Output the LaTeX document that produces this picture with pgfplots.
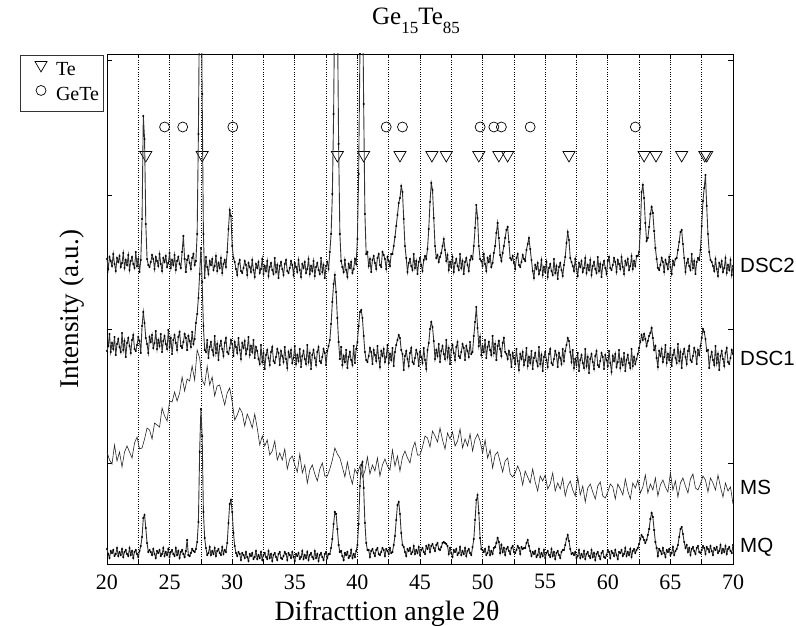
\documentclass[border=0pt]{standalone}
\usepackage{fontspec}
\setmainfont{Liberation Serif}
\newfontfamily\arialfont{Liberation Sans}
\usepackage{pgfplots}
\usepackage{pgfplotstable}
\pgfplotsset{compat=1.18}

\pgfplotstableread{
x y
20.0 305
20.1 295
20.2 307
20.3 303
20.4 298
20.5 310
20.6 300
20.7 293
20.8 306
20.9 302
21.0 308
21.1 297
21.2 301
21.3 311
21.4 296
21.5 304
21.6 299
21.7 309
21.8 294
21.9 303
22.0 307
22.1 300
22.2 296
22.3 312
22.4 298
22.5 305
22.6 292
22.7 304
22.8 345
22.9 448
23.0 425
23.1 340
23.2 305
23.3 299
23.4 297
23.5 302
23.6 309
23.7 305
23.8 295
23.9 307
24.0 303
24.1 298
24.2 310
24.3 300
24.4 293
24.5 306
24.6 302
24.7 308
24.8 297
24.9 301
25.0 311
25.1 296
25.2 304
25.3 299
25.4 309
25.5 294
25.6 303
25.7 307
25.8 300
25.9 296
26.0 312
26.1 328
26.2 305
26.3 292
26.4 304
26.5 308
26.6 301
26.7 295
26.8 306
26.9 310
27.0 299
27.1 303
27.2 330
27.3 430
27.4 580
27.5 640
27.6 470
27.7 330
27.8 286
27.9 307
28.0 297
28.1 290
28.2 303
28.3 299
28.4 305
28.5 294
28.6 298
28.7 308
28.8 293
28.9 301
29.0 296
29.1 306
29.2 291
29.3 300
29.4 304
29.5 297
29.6 312
29.7 335
29.8 354
29.9 348
30.0 318
30.1 306
30.2 302
30.3 295
30.4 289
30.5 300
30.6 304
30.7 293
30.8 291
30.9 296
31.0 303
31.1 299
31.2 289
31.3 301
31.4 297
31.5 292
31.6 304
31.7 294
31.8 287
31.9 300
32.0 296
32.1 302
32.2 291
32.3 295
32.4 305
32.5 290
32.6 298
32.7 293
32.8 303
32.9 288
33.0 297
33.1 301
33.2 294
33.3 290
33.4 306
33.5 292
33.6 299
33.7 286
33.8 298
33.9 302
34.0 295
34.1 289
34.2 300
34.3 304
34.4 293
34.5 291
34.6 296
34.7 303
34.8 299
34.9 289
35.0 301
35.1 297
35.2 292
35.3 304
35.4 294
35.5 287
35.6 300
35.7 296
35.8 302
35.9 291
36.0 295
36.1 305
36.2 290
36.3 298
36.4 293
36.5 303
36.6 288
36.7 297
36.8 301
36.9 294
37.0 290
37.1 306
37.2 292
37.3 299
37.4 286
37.5 298
37.6 302
37.7 295
37.8 312
37.9 330
38.0 370
38.1 450
38.2 580
38.3 660
38.4 560
38.5 420
38.6 330
38.7 303
38.8 297
38.9 292
39.0 304
39.1 294
39.2 287
39.3 300
39.4 296
39.5 302
39.6 291
39.7 295
39.8 305
39.9 300
40.0 325
40.1 390
40.2 510
40.3 620
40.4 590
40.5 460
40.6 350
40.7 310
40.8 312
40.9 298
41.0 305
41.1 292
41.2 304
41.3 308
41.4 301
41.5 295
41.6 306
41.7 310
41.8 299
41.9 297
42.0 312
42.1 309
42.2 305
42.3 295
42.4 307
42.5 303
42.6 298
42.7 310
42.8 310
42.9 318
43.0 327
43.1 338
43.2 349
43.3 361
43.4 366
43.5 378
43.6 372
43.7 345
43.8 318
43.9 306
44.0 292
44.1 301
44.2 305
44.3 298
44.4 294
44.5 310
44.6 296
44.7 303
44.8 290
44.9 302
45.0 306
45.1 299
45.2 293
45.3 304
45.4 308
45.5 305
45.6 315
45.7 335
45.8 362
45.9 381
46.0 374
46.1 346
46.2 318
46.3 306
46.4 309
46.5 302
46.6 307
46.7 311
46.8 318
46.9 325
47.0 314
47.1 303
47.2 309
47.3 294
47.4 302
47.5 297
47.6 307
47.7 292
47.8 301
47.9 305
48.0 298
48.1 294
48.2 310
48.3 296
48.4 303
48.5 290
48.6 302
48.7 306
48.8 299
48.9 293
49.0 304
49.1 308
49.2 305
49.3 318
49.4 336
49.5 359
49.6 346
49.7 318
49.8 305
49.9 303
50.0 298
50.1 310
50.2 300
50.3 293
50.4 306
50.5 302
50.6 308
50.7 297
50.8 301
50.9 311
51.0 318
51.1 331
51.2 341
51.3 326
51.4 309
51.5 303
51.6 311
51.7 318
51.8 326
51.9 334
52.0 337
52.1 322
52.2 306
52.3 304
52.4 308
52.5 301
52.6 295
52.7 306
52.8 310
52.9 299
53.0 297
53.1 302
53.2 309
53.3 305
53.4 303
53.5 314
53.6 320
53.7 326
53.8 315
53.9 304
54.0 293
54.1 286
54.2 299
54.3 295
54.4 301
54.5 290
54.6 294
54.7 304
54.8 289
54.9 297
55.0 292
55.1 302
55.2 287
55.3 296
55.4 300
55.5 293
55.6 289
55.7 305
55.8 291
55.9 298
56.0 285
56.1 297
56.2 301
56.3 294
56.4 288
56.5 299
56.6 307
56.7 321
56.8 332
56.9 324
57.0 306
57.1 302
57.2 298
57.3 293
57.4 305
57.5 295
57.6 288
57.7 301
57.8 297
57.9 303
58.0 292
58.1 296
58.2 306
58.3 291
58.4 299
58.5 294
58.6 304
58.7 289
58.8 298
58.9 302
59.0 295
59.1 291
59.2 307
59.3 293
59.4 300
59.5 287
59.6 299
59.7 303
59.8 296
59.9 290
60.0 303
60.1 307
60.2 296
60.3 294
60.4 299
60.5 306
60.6 302
60.7 292
60.8 304
60.9 300
61.0 295
61.1 307
61.2 297
61.3 290
61.4 303
61.5 299
61.6 305
61.7 294
61.8 298
61.9 308
62.0 295
62.1 303
62.2 298
62.3 308
62.4 308
62.5 312
62.6 335
62.7 372
62.8 379
62.9 366
63.0 341
63.1 323
63.2 326
63.3 337
63.4 350
63.5 357
63.6 351
63.7 333
63.8 316
63.9 305
64.0 296
64.1 294
64.2 299
64.3 306
64.4 302
64.5 292
64.6 304
64.7 300
64.8 295
64.9 307
65.0 297
65.1 290
65.2 303
65.3 299
65.4 305
65.5 306
65.6 314
65.7 322
65.8 332
65.9 334
66.0 320
66.1 306
66.2 292
66.3 301
66.4 305
66.5 298
66.6 294
66.7 310
66.8 296
66.9 303
67.0 290
67.1 302
67.2 306
67.3 304
67.4 314
67.5 338
67.6 363
67.7 376
67.8 389
67.9 358
68.0 330
68.1 312
68.2 304
68.3 302
68.4 298
68.5 293
68.6 305
68.7 295
68.8 288
68.9 301
69.0 297
69.1 303
69.2 292
69.3 296
69.4 306
69.5 291
69.6 299
69.7 294
69.8 304
69.9 289
70.0 298
}\dsctwo

\pgfplotstableread{
x y
20.0 213
20.1 218
20.2 230
20.3 212
20.4 221
20.5 215
20.6 227
20.7 209
20.8 220
20.9 225
21.0 217
21.1 212
21.2 231
21.3 214
21.4 223
21.5 207
21.6 221
21.7 226
21.8 218
21.9 211
22.0 224
22.1 229
22.2 215
22.3 213
22.4 219
22.5 227
22.6 223
22.7 211
22.8 238
22.9 252
23.0 241
23.1 226
23.2 220
23.3 211
23.4 227
23.5 222
23.6 229
23.7 216
23.8 221
23.9 233
24.0 215
24.1 224
24.2 218
24.3 230
24.4 212
24.5 223
24.6 228
24.7 220
24.8 215
24.9 234
25.0 217
25.1 226
25.2 210
25.3 224
25.4 229
25.5 221
25.6 214
25.7 227
25.8 232
25.9 218
26.0 216
26.1 222
26.2 230
26.3 226
26.4 214
26.5 228
26.6 223
26.7 217
26.8 232
26.9 220
27.0 225
27.1 241
27.2 250
27.3 266
27.4 290
27.5 316
27.6 282
27.7 238
27.8 214
27.9 212
28.0 224
28.1 206
28.2 217
28.3 222
28.4 214
28.5 209
28.6 228
28.7 211
28.8 220
28.9 204
29.0 218
29.1 223
29.2 215
29.3 208
29.4 221
29.5 226
29.6 212
29.7 210
29.8 216
29.9 224
30.0 220
30.1 208
30.2 222
30.3 217
30.4 211
30.5 226
30.6 214
30.7 205
30.8 221
30.9 216
31.0 223
31.1 210
31.2 215
31.3 227
31.4 209
31.5 218
31.6 212
31.7 224
31.8 206
31.9 217
32.0 213
32.1 205
32.2 200
32.3 219
32.4 202
32.5 211
32.6 195
32.7 209
32.8 214
32.9 206
33.0 199
33.1 212
33.2 217
33.3 203
33.4 201
33.5 207
33.6 215
33.7 211
33.8 199
33.9 213
34.0 208
34.1 202
34.2 217
34.3 205
34.4 196
34.5 212
34.6 207
34.7 214
34.8 201
34.9 206
35.0 218
35.1 200
35.2 209
35.3 203
35.4 215
35.5 197
35.6 208
35.7 213
35.8 205
35.9 200
36.0 219
36.1 202
36.2 211
36.3 195
36.4 209
36.5 214
36.6 206
36.7 199
36.8 212
36.9 217
37.0 203
37.1 201
37.2 207
37.3 215
37.4 211
37.5 199
37.6 213
37.7 218
37.8 224
37.9 240
38.0 262
38.1 280
38.2 289
38.3 272
38.4 246
38.5 222
38.6 205
38.7 217
38.8 199
38.9 208
39.0 202
39.1 214
39.2 196
39.3 207
39.4 212
39.5 204
39.6 199
39.7 218
39.8 201
39.9 215
40.0 222
40.1 238
40.2 252
40.3 254
40.4 246
40.5 228
40.6 212
40.7 204
40.8 202
40.9 208
41.0 216
41.1 212
41.2 200
41.3 214
41.4 209
41.5 203
41.6 218
41.7 206
41.8 197
41.9 213
42.0 208
42.1 215
42.2 202
42.3 207
42.4 219
42.5 201
42.6 210
42.7 204
42.8 216
42.9 198
43.0 212
43.1 219
43.2 224
43.3 229
43.4 226
43.5 214
43.6 210
43.7 194
43.8 208
43.9 213
44.0 205
44.1 198
44.2 211
44.3 216
44.4 202
44.5 200
44.6 206
44.7 214
44.8 210
44.9 198
45.0 212
45.1 207
45.2 201
45.3 216
45.4 204
45.5 195
45.6 214
45.7 221
45.8 235
45.9 242
46.0 237
46.1 223
46.2 205
46.3 214
46.4 208
46.5 220
46.6 202
46.7 213
46.8 218
46.9 210
47.0 205
47.1 224
47.2 207
47.3 216
47.4 200
47.5 214
47.6 219
47.7 211
47.8 204
47.9 217
48.0 222
48.1 208
48.2 206
48.3 212
48.4 220
48.5 216
48.6 204
48.7 218
48.8 213
48.9 207
49.0 222
49.1 210
49.2 212
49.3 228
49.4 242
49.5 257
49.6 236
49.7 218
49.8 227
49.9 209
50.0 218
50.1 212
50.2 224
50.3 206
50.4 217
50.5 222
50.6 214
50.7 209
50.8 228
50.9 211
51.0 220
51.1 204
51.2 218
51.3 223
51.4 215
51.5 208
51.6 221
51.7 226
51.8 212
51.9 210
52.0 205
52.1 213
52.2 209
52.3 197
52.4 211
52.5 206
52.6 200
52.7 215
52.8 203
52.9 194
53.0 210
53.1 205
53.2 212
53.3 199
53.4 204
53.5 216
53.6 198
53.7 207
53.8 201
53.9 213
54.0 195
54.1 206
54.2 211
54.3 203
54.4 198
54.5 217
54.6 200
54.7 209
54.8 193
54.9 207
55.0 212
55.1 204
55.2 197
55.3 210
55.4 215
55.5 201
55.6 199
55.7 205
55.8 213
55.9 209
56.0 197
56.1 211
56.2 206
56.3 200
56.4 215
56.5 203
56.6 213
56.7 219
56.8 226
56.9 223
57.0 212
57.1 202
57.2 214
57.3 196
57.4 205
57.5 199
57.6 211
57.7 193
57.8 204
57.9 209
58.0 201
58.1 196
58.2 215
58.3 198
58.4 207
58.5 191
58.6 205
58.7 210
58.8 202
58.9 195
59.0 208
59.1 213
59.2 199
59.3 197
59.4 203
59.5 211
59.6 207
59.7 195
59.8 209
59.9 204
60.0 198
60.1 213
60.2 201
60.3 192
60.4 208
60.5 203
60.6 210
60.7 197
60.8 202
60.9 214
61.0 196
61.1 205
61.2 199
61.3 211
61.4 193
61.5 204
61.6 209
61.7 201
61.8 196
61.9 215
62.0 198
62.1 207
62.2 200
62.3 205
62.4 210
62.5 216
62.6 222
62.7 229
62.8 224
62.9 230
63.0 225
63.1 218
63.2 223
63.3 228
63.4 231
63.5 236
63.6 226
63.7 214
63.8 218
63.9 206
64.0 197
64.1 213
64.2 208
64.3 215
64.4 202
64.5 207
64.6 219
64.7 201
64.8 210
64.9 204
65.0 216
65.1 198
65.2 209
65.3 214
65.4 206
65.5 201
65.6 220
65.7 203
65.8 212
65.9 196
66.0 210
66.1 215
66.2 207
66.3 200
66.4 213
66.5 218
66.6 204
66.7 202
66.8 208
66.9 216
67.0 212
67.1 200
67.2 214
67.3 209
67.4 218
67.5 226
67.6 235
67.7 232
67.8 225
67.9 213
68.0 214
68.1 196
68.2 207
68.3 212
68.4 204
68.5 199
68.6 218
68.7 201
68.8 210
68.9 194
69.0 208
69.1 213
69.2 205
69.3 198
69.4 211
69.5 216
69.6 202
69.7 200
69.8 206
69.9 214
70.0 210
}\dscone

\pgfplotstableread{
x y
20.0 112
20.2 104
20.4 100
20.6 119
20.8 103
21.0 112
21.2 97
21.4 112
21.6 118
21.8 112
22.0 106
22.2 121
22.4 127
22.6 115
22.8 116
23.0 125
23.2 136
23.4 134
23.6 125
23.8 141
24.0 139
24.2 137
24.4 156
24.6 148
24.8 143
25.0 163
25.2 162
25.4 172
25.6 163
25.8 171
26.0 187
26.2 173
26.4 185
26.6 183
26.8 198
27.0 184
27.2 214
27.4 206
27.6 184
27.8 179
28.0 198
28.2 179
28.4 187
28.6 168
28.8 178
29.0 179
29.2 169
29.4 159
29.6 171
29.8 176
30.0 162
30.2 144
30.4 149
30.6 156
30.8 151
31.0 138
31.2 150
31.4 144
31.6 136
31.8 150
32.0 136
32.2 119
32.4 128
32.6 118
32.8 124
33.0 109
33.2 113
33.4 123
33.6 104
33.8 111
34.0 104
34.2 115
34.4 95
34.6 105
34.8 108
35.0 99
35.2 92
35.4 110
35.6 91
35.8 99
36.0 81
36.2 94
36.4 99
36.6 90
36.8 83
37.0 95
37.2 101
37.4 88
37.6 88
37.8 95
38.0 104
38.2 116
38.4 110
38.6 106
38.8 97
39.0 87
39.2 102
39.4 89
39.6 80
39.8 95
40.0 90
40.2 98
40.4 87
40.6 93
40.8 107
41.0 90
41.2 99
41.4 93
41.6 106
41.8 88
42.0 99
42.2 105
42.4 98
42.6 94
42.8 114
43.0 98
43.2 108
43.4 93
43.6 107
43.8 113
44.0 106
44.2 101
44.4 115
44.6 122
44.8 109
45.0 109
45.2 117
45.4 128
45.6 126
45.8 117
46.0 133
46.2 128
46.4 122
46.6 136
46.8 124
47.0 115
47.2 131
47.4 125
47.6 132
47.8 118
48.0 123
48.2 135
48.4 116
48.6 125
48.8 118
49.0 130
49.2 113
49.4 125
49.6 130
49.8 123
50.0 111
50.2 124
50.4 106
50.6 114
50.8 96
51.0 109
51.2 112
51.4 102
51.6 92
51.8 103
52.0 106
52.2 90
52.4 87
52.6 91
52.8 98
53.0 92
53.2 79
53.4 93
53.6 87
53.8 81
54.0 95
54.2 82
54.4 73
54.6 88
54.8 83
55.0 89
55.2 75
55.4 80
55.6 91
55.8 73
56.0 81
56.2 75
56.4 86
56.6 68
56.8 78
57.0 83
57.2 74
57.4 68
57.6 87
57.8 69
58.0 78
58.2 62
58.4 76
58.6 80
58.8 72
59.0 65
59.2 78
59.4 82
59.6 68
59.8 66
60.0 72
60.2 80
60.4 77
60.6 65
60.8 80
61.0 75
61.2 69
61.4 85
61.6 73
61.8 65
62.0 81
62.2 76
62.4 84
62.6 71
62.8 77
63.0 89
63.2 71
63.4 80
63.6 74
63.8 86
64.0 68
64.2 79
64.4 84
64.6 77
64.8 72
65.0 91
65.2 74
65.4 83
65.6 67
65.8 81
66.0 86
66.2 78
66.4 71
66.6 85
66.8 90
67.0 76
67.2 74
67.4 80
67.6 88
67.8 84
68.0 72
68.2 86
68.4 81
68.6 74
68.8 89
69.0 77
69.2 67
69.4 81
69.6 73
69.8 77
70.0 60
}\ms

\pgfplotstableread{
x y
20.0 15
20.1 10
20.2 6
20.3 13
20.4 11
20.5 14
20.6 8
20.7 10
20.8 16
20.9 8
21.0 12
21.1 9
21.2 15
21.3 7
21.4 12
21.5 14
21.6 10
21.7 8
21.8 16
21.9 9
22.0 13
22.1 6
22.2 12
22.3 14
22.4 10
22.5 7
22.6 13
22.7 18
22.8 27
22.9 46
23.0 49
23.1 36
23.2 21
23.3 12
23.4 14
23.5 12
23.6 9
23.7 15
23.8 10
23.9 6
24.0 13
24.1 11
24.2 14
24.3 8
24.4 10
24.5 16
24.6 8
24.7 12
24.8 9
24.9 15
25.0 7
25.1 12
25.2 14
25.3 10
25.4 8
25.5 16
25.6 9
25.7 13
25.8 6
25.9 12
26.0 14
26.1 10
26.2 7
26.3 13
26.4 24
26.5 9
26.6 8
26.7 11
26.8 15
26.9 13
27.0 12
27.1 15
27.2 22
27.3 42
27.4 112
27.5 155
27.6 128
27.7 52
27.8 26
27.9 16
28.0 9
28.1 11
28.2 17
28.3 9
28.4 13
28.5 10
28.6 16
28.7 8
28.8 13
28.9 15
29.0 11
29.1 9
29.2 17
29.3 10
29.4 14
29.5 12
29.6 21
29.7 41
29.8 60
29.9 64
30.0 52
30.1 31
30.2 18
30.3 11
30.4 8
30.5 12
30.6 10
30.7 4
30.8 11
30.9 9
31.0 6
31.1 12
31.2 7
31.3 3
31.4 10
31.5 8
31.6 11
31.7 5
31.8 7
31.9 13
32.0 5
32.1 9
32.2 6
32.3 12
32.4 4
32.5 9
32.6 11
32.7 7
32.8 5
32.9 13
33.0 6
33.1 10
33.2 3
33.3 9
33.4 11
33.5 7
33.6 4
33.7 10
33.8 12
33.9 6
34.0 5
34.1 8
34.2 12
34.3 10
34.4 4
34.5 11
34.6 9
34.7 6
34.8 12
34.9 7
35.0 3
35.1 10
35.2 8
35.3 11
35.4 5
35.5 7
35.6 13
35.7 5
35.8 9
35.9 6
36.0 12
36.1 4
36.2 9
36.3 11
36.4 7
36.5 5
36.6 13
36.7 6
36.8 10
36.9 3
37.0 9
37.1 11
37.2 7
37.3 4
37.4 10
37.5 12
37.6 6
37.7 10
37.8 10
37.9 16
38.0 25
38.1 40
38.2 52
38.3 50
38.4 35
38.5 19
38.6 12
38.7 13
38.8 8
38.9 4
39.0 11
39.1 9
39.2 12
39.3 6
39.4 8
39.5 14
39.6 6
39.7 10
39.8 7
39.9 13
40.0 19
40.1 40
40.2 78
40.3 99
40.4 102
40.5 76
40.6 41
40.7 21
40.8 14
40.9 14
41.0 7
41.1 13
41.2 15
41.3 11
41.4 8
41.5 14
41.6 16
41.7 10
41.8 9
41.9 12
42.0 16
42.1 14
42.2 8
42.3 15
42.4 13
42.5 10
42.6 16
42.7 11
42.8 12
42.9 19
43.0 28
43.1 44
43.2 59
43.3 62
43.4 50
43.5 31
43.6 19
43.7 17
43.8 12
43.9 8
44.0 15
44.1 13
44.2 16
44.3 10
44.4 12
44.5 18
44.6 10
44.7 14
44.8 11
44.9 17
45.0 9
45.1 14
45.2 16
45.3 12
45.4 10
45.5 18
45.6 15
45.7 19
45.8 12
45.9 18
46.0 20
46.1 16
46.2 13
46.3 19
46.4 21
46.5 15
46.6 14
46.7 17
46.8 21
46.9 22
47.0 21
47.1 20
47.2 18
47.3 10
47.4 16
47.5 11
47.6 7
47.7 14
47.8 12
47.9 15
48.0 9
48.1 11
48.2 17
48.3 9
48.4 13
48.5 10
48.6 16
48.7 8
48.8 13
48.9 15
49.0 11
49.1 9
49.2 17
49.3 25
49.4 44
49.5 64
49.6 69
49.7 51
49.8 26
49.9 15
50.0 14
50.1 12
50.2 15
50.3 9
50.4 11
50.5 17
50.6 9
50.7 13
50.8 10
50.9 16
51.0 17
51.1 21
51.2 26
51.3 22
51.4 11
51.5 19
51.6 12
51.7 16
51.8 9
51.9 15
52.0 17
52.1 13
52.2 10
52.3 16
52.4 18
52.5 12
52.6 11
52.7 14
52.8 18
52.9 16
53.0 10
53.1 17
53.2 15
53.3 16
53.4 16
53.5 21
53.6 24
53.7 18
53.8 13
53.9 8
54.0 12
54.1 10
54.2 13
54.3 7
54.4 9
54.5 15
54.6 7
54.7 11
54.8 8
54.9 14
55.0 6
55.1 11
55.2 13
55.3 9
55.4 7
55.5 15
55.6 8
55.7 12
55.8 5
55.9 11
56.0 13
56.1 9
56.2 6
56.3 12
56.4 14
56.5 14
56.6 19
56.7 25
56.8 29
56.9 23
57.0 15
57.1 10
57.2 11
57.3 9
57.4 12
57.5 6
57.6 8
57.7 14
57.8 6
57.9 10
58.0 7
58.1 13
58.2 5
58.3 10
58.4 12
58.5 8
58.6 6
58.7 14
58.8 7
58.9 11
59.0 4
59.1 10
59.2 12
59.3 8
59.4 5
59.5 11
59.6 13
59.7 7
59.8 6
59.9 9
60.0 14
60.1 12
60.2 6
60.3 13
60.4 11
60.5 8
60.6 14
60.7 9
60.8 5
60.9 12
61.0 11
61.1 14
61.2 8
61.3 10
61.4 16
61.5 8
61.6 12
61.7 9
61.8 15
61.9 7
62.0 13
62.1 15
62.2 11
62.3 14
62.4 16
62.5 20
62.6 25
62.7 29
62.8 27
62.9 24
63.0 21
63.1 24
63.2 29
63.3 35
63.4 45
63.5 51
63.6 47
63.7 34
63.8 22
63.9 16
64.0 8
64.1 15
64.2 13
64.3 10
64.4 16
64.5 11
64.6 7
64.7 14
64.8 12
64.9 15
65.0 9
65.1 11
65.2 17
65.3 9
65.4 13
65.5 15
65.6 19
65.7 27
65.8 35
65.9 37
66.0 30
66.1 22
66.2 16
66.3 19
66.4 12
66.5 16
66.6 9
66.7 15
66.8 17
66.9 13
67.0 10
67.1 16
67.2 18
67.3 12
67.4 11
67.5 14
67.6 18
67.7 16
67.8 10
67.9 17
68.0 15
68.1 12
68.2 18
68.3 13
68.4 9
68.5 16
68.6 14
68.7 17
68.8 11
68.9 13
69.0 19
69.1 11
69.2 15
69.3 12
69.4 18
69.5 10
69.6 15
69.7 17
69.8 13
69.9 11
70.0 19
}\mq

\begin{document}
\begin{tikzpicture}
\path[use as bounding box] (-107pt,-62pt) rectangle (689pt,564pt);
\begin{axis}[
  at={(0pt,0pt)}, anchor=south west,
  scale only axis, width=626pt, height=510pt,
  xmin=20, xmax=70, ymin=0, ymax=510,
  xtick={20,25,...,70},
  minor xtick={22.5,27.5,...,67.5},
  ytick={101,235,369,504}, yticklabels={},
  tick align=inside,
  major tick length=5pt, minor tick length=4pt,
  xmajorgrids, xminorgrids,
  major grid style={black, dotted, line width=0.7pt},
  minor grid style={black, dotted, line width=0.7pt},
  axis line style={black, line width=0.9pt},
  every tick/.style={black, line width=0.7pt},
  /pgf/number format/assume math mode=true,
  ticklabel style={font=\fontsize{22}{24}\selectfont},
  xticklabel style={yshift=-7pt},
  xlabel={Difracttion angle 2θ},
  ylabel={Intensity (a.u.)},
  xlabel style={font=\fontsize{28}{30}\selectfont, xshift=-33pt, yshift=-5pt},
  ylabel style={font=\fontsize{27}{30}\selectfont, yshift=12pt},
  title={Ge\raisebox{-9pt}{\fontsize{17}{17}\selectfont 15}Te\raisebox{-9pt}{\fontsize{17}{17}\selectfont 85}},
  title style={font=\fontsize{25}{28}\selectfont, yshift=11pt, xshift=-4pt},
  clip mode=individual,
  legend style={at={(rel axis cs:0,1)}, anchor=north east, xshift=-3pt, yshift=-1pt,
    draw=black!80, line width=0.9pt, font=\fontsize{20}{22}\selectfont,
    inner xsep=1.5pt, inner ysep=5pt, row sep=4pt,
    nodes={inner xsep=3pt, inner ysep=0pt, text height=15pt, text depth=6pt}},
  legend cell align=left,
]
\addlegendimage{legend image code/.code={%
  \path[draw=none, fill=none] (0pt,-2pt) rectangle (31pt,2pt);
  \draw[black, line width=0.7pt] plot[only marks, mark=triangle, mark size=7pt,
    mark options={rotate=180, fill=none}] coordinates {(19pt,6pt)};}}
\addlegendentry{Te}
\addlegendimage{legend image code/.code={%
  \path[draw=none, fill=none] (0pt,-2pt) rectangle (31pt,2pt);
  \draw[black, line width=0.7pt] plot[only marks, mark=o, mark size=5pt]
    coordinates {(19pt,6pt)};}}
\addlegendentry{GeTe}
\addplot[forget plot, only marks, mark=triangle, mark size=7pt,
  mark options={rotate=180, draw=black, fill=none, line width=0.7pt}]
  coordinates {(23.1,409)(27.6,409)(38.4,409)(40.5,409)(43.4,409)(45.95,409)
  (47.1,409)(49.7,409)(51.3,409)(52.0,409)(56.9,409)(62.9,409)(63.85,409)
  (65.9,409)(67.75,409)(67.9,409)};
\addplot[forget plot, only marks, mark=o, mark size=5pt,
  mark options={draw=black, line width=0.7pt}]
  coordinates {(24.6,437)(26.05,437)(30.05,437)(42.3,437)(43.6,437)(49.8,437)
  (50.9,437)(51.5,437)(53.8,437)(62.2,437)};
\addplot[forget plot, black!85, line width=0.6pt] table {\ms};
\addplot[forget plot, black!80, line width=0.9pt, mark=*, mark size=0.5pt,
  mark options={black}] table {\mq};
\addplot[forget plot, black!80, line width=0.9pt, mark=*, mark size=0.5pt,
  mark options={black}] table {\dscone};
\addplot[forget plot, black!80, line width=0.9pt, mark=*, mark size=0.5pt,
  mark options={black}] table {\dsctwo};
\node[anchor=west, inner sep=0pt, font=\arialfont\fontsize{20.5}{22}\selectfont, xshift=7pt]
  at (axis cs:70,299) {DSC2};
\node[anchor=west, inner sep=0pt, font=\arialfont\fontsize{20.5}{22}\selectfont, xshift=7pt]
  at (axis cs:70,206) {DSC1};
\node[anchor=west, inner sep=0pt, font=\arialfont\fontsize{20.5}{22}\selectfont, xshift=7pt]
  at (axis cs:70,77) {MS};
\node[anchor=west, inner sep=0pt, font=\arialfont\fontsize{20.5}{22}\selectfont, xshift=7pt]
  at (axis cs:70,17) {MQ};
\end{axis}
\end{tikzpicture}
\end{document}
